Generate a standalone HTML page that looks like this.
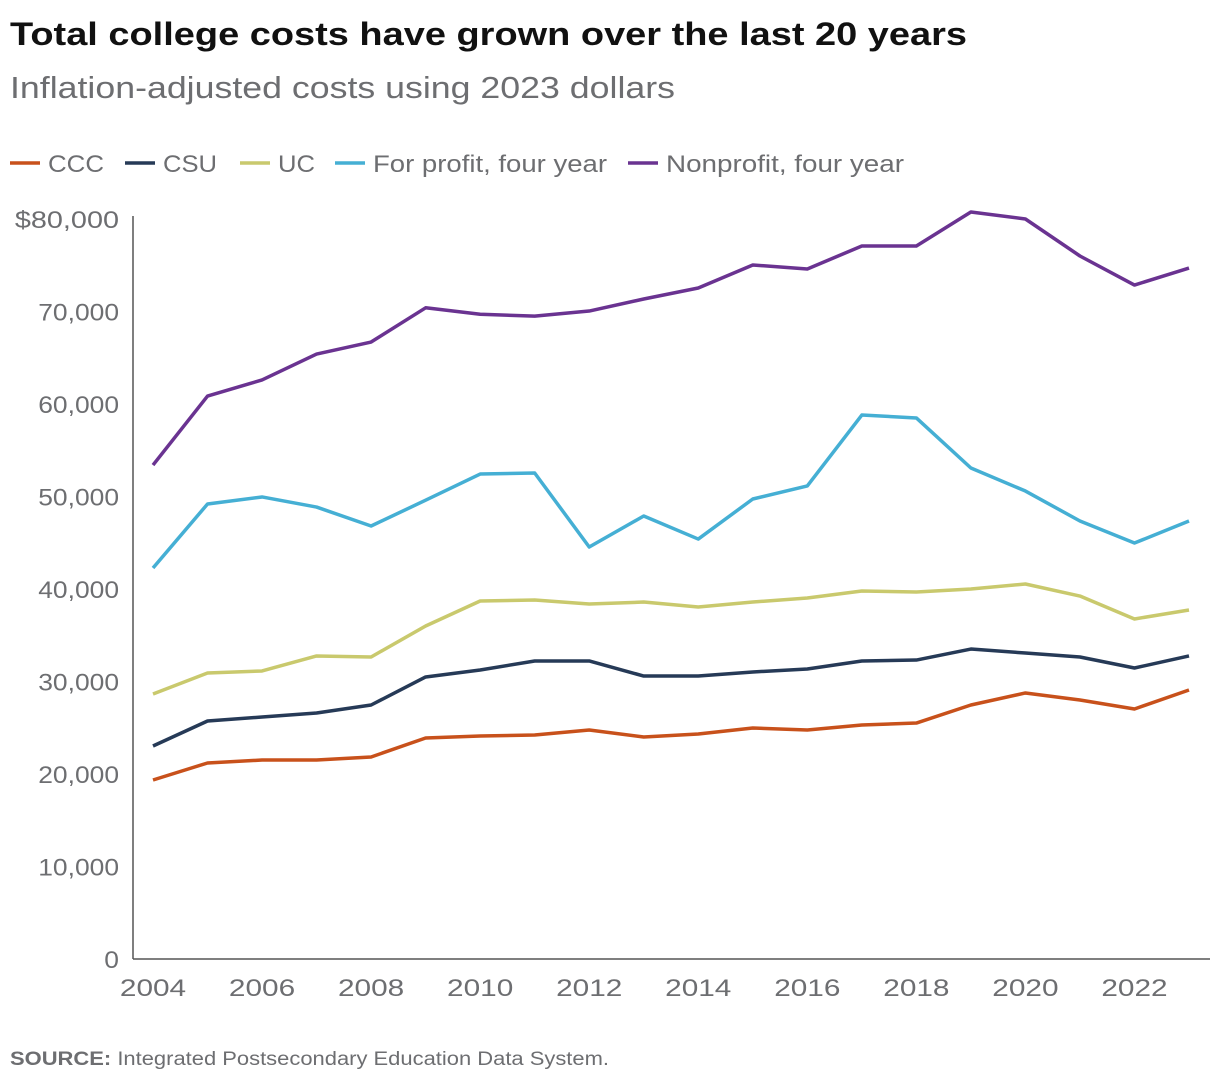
<!DOCTYPE html>
<html><head><meta charset="utf-8"><style>
body{margin:0;background:#fff;width:1220px;height:1084px;overflow:hidden;font-family:"Liberation Sans",sans-serif;}
</style></head><body>
<svg width="1220" height="1084" xmlns="http://www.w3.org/2000/svg">
<text x="10" y="45" font-size="32" font-weight="bold" fill="#111" textLength="957" lengthAdjust="spacingAndGlyphs">Total college costs have grown over the last 20 years</text>
<text x="10" y="98" font-size="31" fill="#6d6e71" textLength="665" lengthAdjust="spacingAndGlyphs">Inflation-adjusted costs using 2023 dollars</text>
<g id="legend"></g>
<g id="axes"></g>
<g id="lines"></g>
<text x="10" y="1065" font-size="19" fill="#6d6e71" textLength="599" lengthAdjust="spacingAndGlyphs"><tspan font-weight="bold">SOURCE:</tspan> Integrated Postsecondary Education Data System.</text>
</svg>
<script>
const years=[2004,2005,2006,2007,2008,2009,2010,2011,2012,2013,2014,2015,2016,2017,2018,2019,2020,2021,2022,2023];
const ccc=[19350,21190,21510,21510,21840,23890,24110,24220,24760,24000,24320,24970,24760,25300,25510,27460,28760,28000,27030,29080];
const csu=[23030,25730,26160,26590,27460,30490,31240,32220,32220,30590,30590,31030,31350,32220,32320,33510,33080,32650,31460,32760];
const uc=[28650,30920,31140,32760,32650,36000,38700,38810,38380,38590,38050,38590,39030,39780,39680,40000,40540,39240,36760,37730];
const forProfit=[42270,49190,49950,48860,46810,49600,52430,52540,44540,47890,45400,49730,51140,58810,58490,53080,50590,47350,44970,47350];
const nonprofit=[53400,60860,62600,65400,66700,70400,69700,69500,70050,71350,72540,75030,74600,77080,77080,80760,80000,76000,72860,74700];
const yTicks=[0,10000,20000,30000,40000,50000,60000,70000,80000];
const yTickLabels=["0","10,000","20,000","30,000","40,000","50,000","60,000","70,000","$80,000"];
const xTicks=[2004,2006,2008,2010,2012,2014,2016,2018,2020,2022];
const seriesNames=["CCC","CSU","UC","For profit, four year","Nonprofit, four year"];
const NS="http://www.w3.org/2000/svg";
const colors=["#c8511b","#263a57","#c9c96d","#45afd4","#6a3391"];
const series=[ccc,csu,uc,forProfit,nonprofit];
const x=y=>153+(y-2004)*(1189-153)/19;
const yS=v=>959-v*(740/80000);
function mk(t,a,p){const e=document.createElementNS(NS,t);for(const k in a)e.setAttribute(k,a[k]);p.appendChild(e);return e;}
function widen(t,f){const w=t.getComputedTextLength();t.setAttribute('textLength',w*f);t.setAttribute('lengthAdjust','spacingAndGlyphs');}
const ax=document.getElementById('axes');
let l=mk('line',{x1:133,y1:216,x2:133,y2:959,stroke:'#555','stroke-width':1.5},ax);


l=mk('line',{x1:133,y1:959,x2:1210,y2:959,stroke:'#555','stroke-width':1.5},ax);


yTicks.forEach((v,i)=>{const t=mk('text',{x:119,y:yS(v)+9,'text-anchor':'end','font-size':24,fill:'#6d6e71'},ax);t.textContent=yTickLabels[i];


widen(t,yTickLabels[i].startsWith('$')?1.2:1.1);});
xTicks.forEach(v=>{const t=mk('text',{x:x(v),y:996,'text-anchor':'middle','font-size':24,fill:'#6d6e71'},ax);t.textContent=v;


widen(t,1.24);});
const lg=document.getElementById('legend');
const lgX=[10,125,240,335,628];
const lgW=[56,54,37,234,238];
seriesNames.forEach((n,i)=>{const ln=mk('line',{x1:lgX[i],y1:163,x2:lgX[i]+30,y2:163,stroke:colors[i],'stroke-width':3.5},lg);


const t=mk('text',{x:lgX[i]+38,y:172,'font-size':24,fill:'#6d6e71',textLength:lgW[i],lengthAdjust:'spacingAndGlyphs'},lg);t.textContent=n;

});
const lines=document.getElementById('lines');
series.forEach((s,i)=>{const p=mk('polyline',{points:s.map((v,j)=>x(years[j])+','+yS(v)).join(' '),fill:'none',stroke:colors[i],'stroke-width':3.5,'stroke-linejoin':'round'},lines);

});
</script>
</body></html>
